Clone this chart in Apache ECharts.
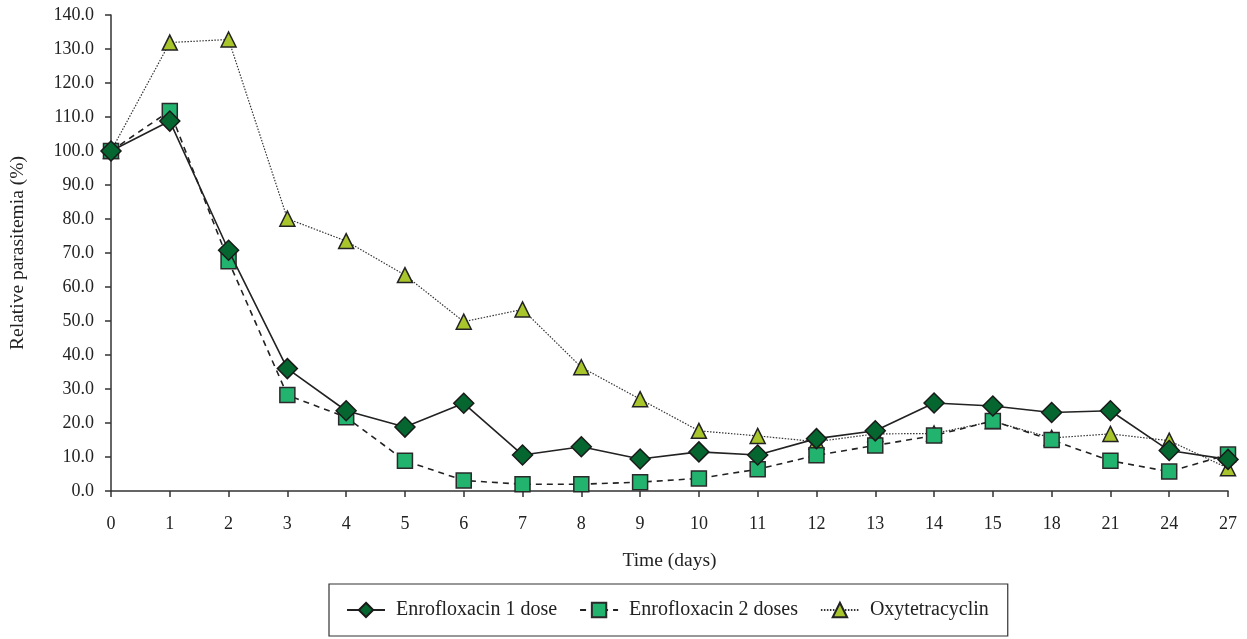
<!DOCTYPE html>
<html><head><meta charset="utf-8">
<script src="https://cdn.jsdelivr.net/npm/echarts@6/dist/echarts.min.js"></script>
<style>html,body{margin:0;padding:0;background:#fff}#c{width:1247px;height:639px}</style>
</head><body><div id="c"></div>
<script>
const categories = ['0','1','2','3','4','5','6','7','8','9','10','11','12','13','14','15','18','21','24','27'];
const enro1 = [100, 108.8, 70.8, 36.0, 23.6, 18.8, 25.8, 10.6, 13.0, 9.4, 11.5, 10.6, 15.4, 17.7, 25.9, 25.0, 23.1, 23.6, 11.9, 9.3];
const enro2 = [100, 111.8, 67.6, 28.2, 21.7, 8.9, 3.1, 2.0, 2.0, 2.6, 3.7, 6.4, 10.5, 13.4, 16.3, 20.6, 15.0, 8.9, 5.7, 10.7];
const oxy = [100, 131.9, 132.8, 80.1, 73.5, 63.5, 49.8, 53.4, 36.4, 27.0, 17.7, 16.2, 14.5, 16.8, 16.9, 20.5, 15.6, 16.8, 14.8, 6.7];
const seriesNames = ['Enrofloxacin 1 dose', 'Enrofloxacin 2 doses', 'Oxytetracyclin'];

const font = '"Liberation Serif", "DejaVu Serif", serif';
const chart = echarts.init(document.getElementById('c'));
chart.setOption({
  animation: false,
  backgroundColor: '#fff',
  textStyle: {fontFamily: font, color: '#222'},
  grid: {left: 110, right: 19, top: 15, bottom: 148, containLabel: false},
  legend: {
    left: 329, top: 584,
    padding: [16, 19, 16, 17],
    borderColor: '#333', borderWidth: 1.2,
    itemWidth: 38, itemHeight: 18, itemGap: 22,
    textStyle: {fontFamily: font, fontSize: 20, color: '#222', padding: [0, 0, 0, 6]},
    data: seriesNames
  },
  xAxis: {
    type: 'category', data: categories, boundaryGap: false,
    name: 'Time (days)', nameLocation: 'middle', nameGap: 60,
    nameTextStyle: {fontFamily: font, fontSize: 19.5, color: '#222'},
    axisLine: {lineStyle: {color: '#333', width: 1.5}},
    axisTick: {show: true, length: 6, lineStyle: {color: '#333', width: 1.5}, alignWithLabel: true},
    axisLabel: {fontFamily: font, fontSize: 18, color: '#222', margin: 24, interval: 0},
    splitLine: {show: false}
  },
  yAxis: {
    type: 'value', min: 0, max: 140, interval: 10,
    name: 'Relative parasitemia (%)', nameLocation: 'middle', nameGap: 83, nameRotate: 90,
    nameTextStyle: {fontFamily: font, fontSize: 19.5, color: '#222'},
    axisLine: {show: true, lineStyle: {color: '#333', width: 1.5}},
    axisTick: {show: true, length: 6, lineStyle: {color: '#333', width: 1.5}},
    axisLabel: {fontFamily: font, fontSize: 18, color: '#222', margin: 17, formatter: v => v.toFixed(1)},
    splitLine: {show: false}
  },
  series: [
    {
      name: seriesNames[2], type: 'line', data: oxy, z: 2,
      symbol: 'triangle', symbolSize: 15,
      lineStyle: {color: '#333', width: 1.2, type: [1.5, 1.5]},
      itemStyle: {color: '#a8c52b', borderColor: '#222', borderWidth: 1.5}
    },
    {
      name: seriesNames[1], type: 'line', data: enro2, z: 3,
      symbol: 'rect', symbolSize: 15,
      lineStyle: {color: '#222', width: 1.6, type: [6, 5]},
      itemStyle: {color: '#22b36f', borderColor: '#2a2a2a', borderWidth: 1.5}
    },
    {
      name: seriesNames[0], type: 'line', data: enro1, z: 4,
      symbol: 'diamond', symbolSize: 20,
      lineStyle: {color: '#222', width: 1.6},
      itemStyle: {color: '#05662f', borderColor: '#1a1a1a', borderWidth: 1.5}
    }
  ]
});
</script></body></html>
